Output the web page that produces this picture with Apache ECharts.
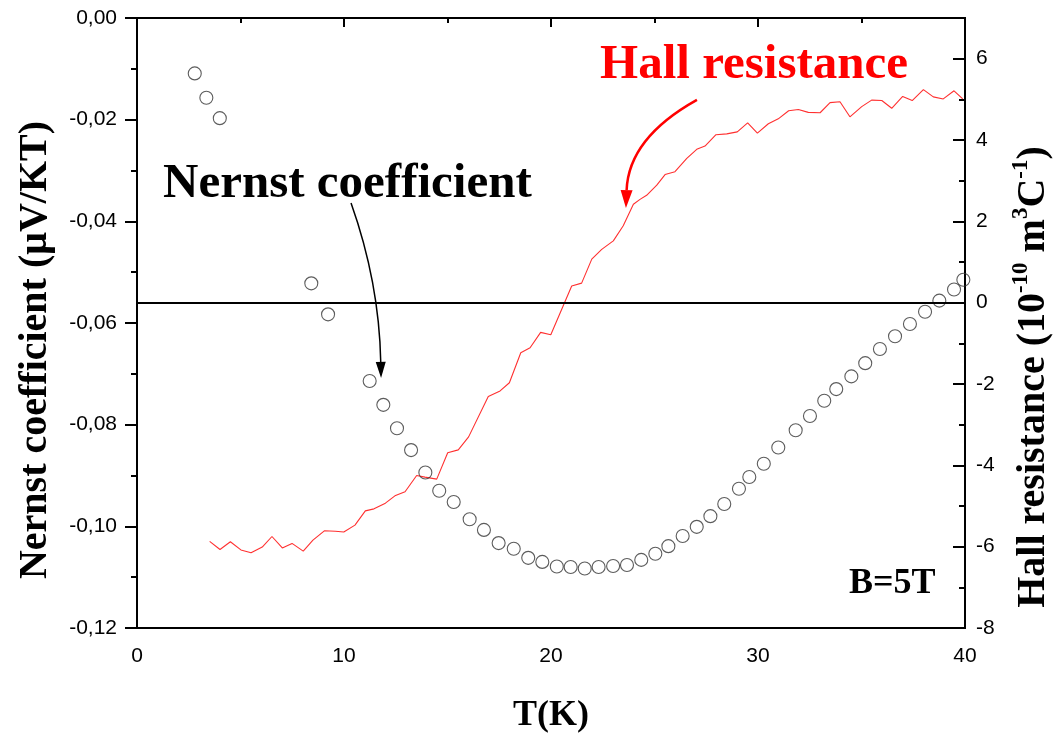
<!DOCTYPE html>
<html>
<head>
<meta charset="utf-8">
<script src="https://cdn.jsdelivr.net/npm/echarts@6/dist/echarts.min.js"></script>
<style>html,body{margin:0;padding:0;background:#fff;}#c{width:1062px;height:733px;}</style>
</head>
<body>
<div id="c"></div>
<script>
// Nernst coefficient (left axis) : temperature T(K) and value (µV/KT)
const nernstT = [2.79,3.35,4.00,8.42,9.23,11.24,11.90,12.56,13.24,13.93,14.60,15.30,16.07,16.76,17.47,18.20,18.90,19.58,20.28,20.95,21.63,22.30,23.00,23.67,24.36,25.04,25.67,26.36,27.04,27.70,28.37,29.08,29.58,30.28,30.98,31.82,32.51,33.20,33.78,34.51,35.18,35.89,36.62,37.34,38.07,38.76,39.47,39.92];
const nernstV = [-0.0109,-0.0157,-0.0197,-0.0522,-0.0583,-0.0714,-0.0761,-0.0807,-0.0850,-0.0894,-0.0930,-0.0952,-0.0986,-0.1007,-0.1033,-0.1044,-0.1062,-0.1070,-0.1079,-0.1080,-0.1083,-0.1080,-0.1078,-0.1076,-0.1066,-0.1054,-0.1039,-0.1019,-0.1001,-0.0980,-0.0956,-0.0926,-0.0903,-0.0877,-0.0845,-0.0811,-0.0783,-0.0753,-0.0730,-0.0705,-0.0679,-0.0651,-0.0626,-0.0602,-0.0578,-0.0556,-0.0534,-0.0515];
// Hall resistance (right axis) : T(K) and value (1e-10 m^3/C)
const hallT = [3.51,4.01,4.51,5.02,5.51,6.05,6.52,7.02,7.49,8.03,8.50,9.05,9.58,9.99,10.53,11.03,11.45,12.00,12.46,12.95,13.51,13.91,14.48,15.01,15.52,16.02,16.97,17.54,17.99,18.54,18.99,19.50,19.99,21.00,21.48,21.97,22.45,23.01,23.49,23.98,24.30,24.62,25.11,25.51,25.99,26.56,27.04,27.44,27.97,28.49,29.00,29.50,29.97,30.50,30.98,31.48,31.95,32.43,33.00,33.48,33.96,34.44,35.01,35.49,35.98,36.46,36.99,37.45,37.99,38.47,38.95,39.47,39.89];
const hallV = [-5.87,-6.07,-5.88,-6.08,-6.15,-6.01,-5.75,-6.03,-5.92,-6.11,-5.84,-5.61,-5.62,-5.64,-5.47,-5.12,-5.07,-4.93,-4.75,-4.65,-4.25,-4.29,-4.34,-3.69,-3.62,-3.30,-2.31,-2.17,-1.97,-1.23,-1.11,-0.73,-0.79,0.41,0.48,1.07,1.31,1.52,1.89,2.42,2.54,2.64,2.89,3.15,3.22,3.55,3.77,3.85,4.13,4.15,4.20,4.42,4.17,4.40,4.52,4.72,4.75,4.68,4.67,4.92,4.94,4.57,4.82,4.98,4.97,4.78,5.07,4.97,5.24,5.06,5.01,5.21,5.01];
// Tick values
const xTicks = [0,10,20,30,40];
const leftTicks = [-0.12,-0.10,-0.08,-0.06,-0.04,-0.02,0];
const rightMajor = [-8,-6,-4,-2,0,2,4,6];
const rightMinor = [-7,-5,-3,-1,1,3,5];

const SERIF = "'Liberation Serif','Times New Roman',serif";
const SANS = "'Liberation Sans',Arial,sans-serif";

const chart = echarts.init(document.getElementById('c'));
const option = {
  backgroundColor: '#fff',
  animation: false,
  grid: {left: 137, right: 97, top: 18, bottom: 105, show: true, borderColor: '#000', borderWidth: 2,
         containLabel: false, outerBoundsMode: 'none'},
  xAxis: {
    type: 'value', min: xTicks[0], max: xTicks[xTicks.length-1], interval: 10,
    axisLine: {show: true, lineStyle: {color: '#000', width: 2}},
    axisTick: {show: true, length: 9, lineStyle: {color: '#000', width: 2}},
    minorTick: {show: true, splitNumber: 2, length: 5, lineStyle: {color: '#000', width: 2}},
    axisLabel: {color: '#000', fontFamily: SANS, fontSize: 21, margin: 18},
    splitLine: {show: false},
    name: 'T(K)', nameLocation: 'middle', nameGap: 70,
    nameTextStyle: {fontFamily: SERIF, fontWeight: 'bold', fontSize: 36, color: '#000'}
  },
  yAxis: [
    {
      type: 'value', position: 'left', min: leftTicks[0], max: leftTicks[leftTicks.length-1], interval: 0.02,
      axisLine: {show: true, lineStyle: {color: '#000', width: 2}},
      axisTick: {show: true, length: 12, lineStyle: {color: '#000', width: 2}},
      minorTick: {show: true, splitNumber: 2, length: 6, lineStyle: {color: '#000', width: 2}},
      axisLabel: {color: '#000', fontFamily: SANS, fontSize: 21, margin: 20,
        formatter: v => v.toFixed(2).replace('.', ',').replace('-0,00','0,00')},
      splitLine: {show: false}
    },
    {
      type: 'value', position: 'right', min: -8, max: 7, interval: 2,
      axisLine: {show: true, lineStyle: {color: '#000', width: 2}},
      axisTick: {show: true, inside: true, length: 12, customValues: rightMajor, lineStyle: {color: '#000', width: 2}},
      axisLabel: {color: '#000', fontFamily: SANS, fontSize: 21, margin: 11, customValues: rightMajor},
      splitLine: {show: false}
    },
    {
      type: 'value', position: 'right', min: -8, max: 7,
      axisLine: {show: false},
      axisTick: {show: true, inside: true, length: 6, customValues: rightMinor, lineStyle: {color: '#000', width: 2}},
      axisLabel: {show: false},
      splitLine: {show: false}
    }
  ],
  series: [
    {
      type: 'line', yAxisIndex: 1, showSymbol: false, symbol: 'none',
      data: hallT.map((t, i) => [t, hallV[i]]),
      lineStyle: {color: '#ff3030', width: 1.1},
      z: 3,
      markLine: {
        silent: true, symbol: 'none', label: {show: false},
        lineStyle: {color: '#000', width: 2, type: 'solid'},
        data: [{yAxis: 0}]
      }
    },
    {
      type: 'scatter', yAxisIndex: 0, symbol: 'circle', symbolSize: 13,
      data: nernstT.map((t, i) => [t, nernstV[i]]),
      itemStyle: {color: 'rgba(0,0,0,0)', borderColor: '#333', borderWidth: 1.1},
      z: 4
    }
  ]
};
chart.setOption(option);

// Annotations anchored in data coordinates (T, left-axis value)
const hallLabelPos = [22.37, -0.0093];
const nernstLabelPos = [1.26, -0.0328];
const bLabelPos = [34.4, -0.1112];
const blackArrow = {start: [10.34, -0.0364], ctrl: [11.70, -0.0520], tip: [11.79, -0.0708]};
const redArrow = {start: [27.05, -0.0161], ctrl: [23.75, -0.0236], tip: [23.62, -0.0374]};

function px(p) { return chart.convertToPixel({xAxisIndex: 0, yAxisIndex: 0}, p); }
function arrow(a, color, w, headLen, headW) {
  const s = px(a.start), c = px(a.ctrl), t = px(a.tip);
  let dx = t[0] - c[0], dy = t[1] - c[1];
  const L = Math.hypot(dx, dy); dx /= L; dy /= L;
  const b = [t[0] - dx * headLen, t[1] - dy * headLen];
  const nx = -dy, ny = dx;
  return [
    {type: 'bezierCurve', shape: {x1: s[0], y1: s[1], cpx1: c[0], cpy1: c[1], x2: b[0], y2: b[1]},
     style: {stroke: color, lineWidth: w, fill: null}, z: 10},
    {type: 'polygon', shape: {points: [t, [b[0] + nx * headW / 2, b[1] + ny * headW / 2], [b[0] - nx * headW / 2, b[1] - ny * headW / 2]]},
     style: {fill: color}, z: 10}
  ];
}
function textAt(p, txt, color, size) {
  const q = px(p);
  return {type: 'text', x: q[0], y: q[1], z: 10,
    style: {text: txt, fill: color, font: 'bold ' + size + 'px ' + SERIF, textAlign: 'left', textVerticalAlign: 'middle'}};
}
const leftTitle = {
  type: 'text', x: 36, y: 350, rotation: Math.PI / 2, z: 10,
  style: {text: 'Nernst coefficient (\u03bcV/KT)', fill: '#000', font: 'bold 40px ' + SERIF, textAlign: 'center', textVerticalAlign: 'middle'}
};
const rightTitle = {
  type: 'text', x: 1034, y: 377, rotation: Math.PI / 2, z: 10,
  style: {
    text: '{t|Hall resistance (10}{s|-10}{t| m}{s|3}{t|C}{s|-1}{t|)}',
    align: 'center', verticalAlign: 'middle', fill: '#000',
    rich: {
      t: {fontFamily: SERIF, fontWeight: 'bold', fontSize: 40, lineHeight: 48, fill: '#000'},
      s: {fontFamily: SERIF, fontWeight: 'bold', fontSize: 23, lineHeight: 26, verticalAlign: 'top', fill: '#000'}
    }
  }
};
chart.setOption({graphic: [
  leftTitle, rightTitle,
  textAt(hallLabelPos, 'Hall resistance', '#ff0000', 49),
  textAt(nernstLabelPos, 'Nernst coefficient', '#000', 49),
  textAt(bLabelPos, 'B=5T', '#000', 36),
  ...arrow(blackArrow, '#000', 1.5, 16, 10),
  ...arrow(redArrow, '#ff0000', 2.5, 18, 12)
]});
</script>
</body>
</html>
